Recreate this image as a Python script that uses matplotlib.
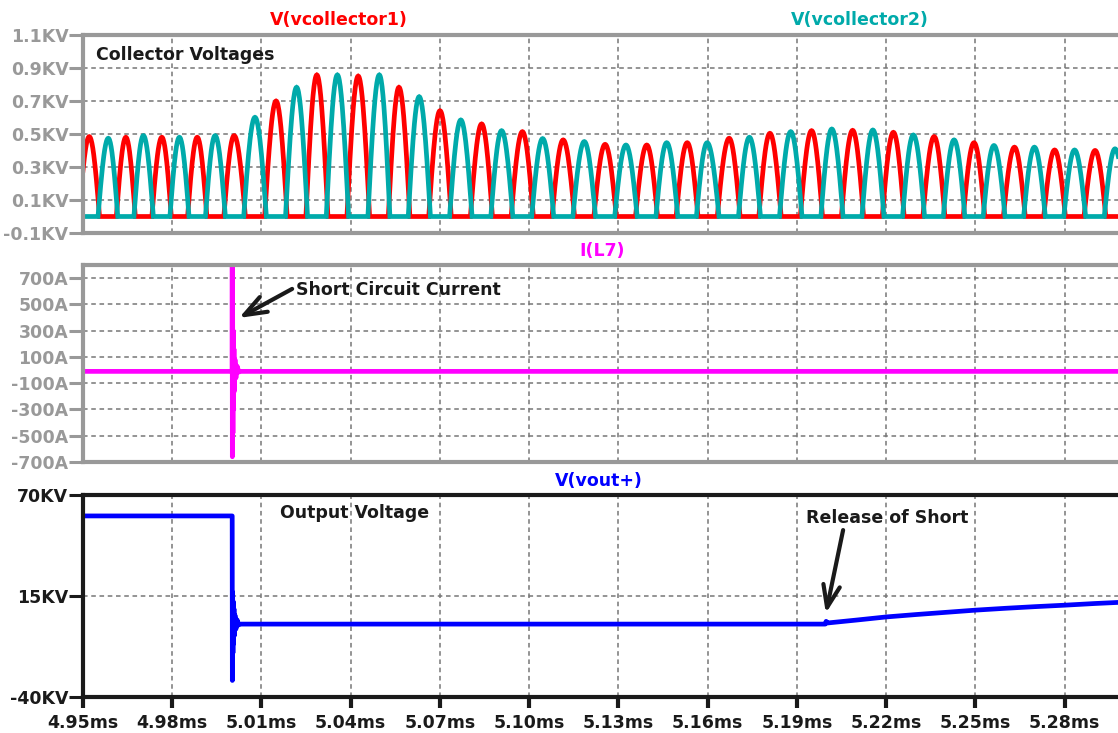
import numpy as np
import matplotlib
matplotlib.use("Agg")
import matplotlib.pyplot as plt

# ---- time axis (ms) ----
t_start, t_end = 4.95, 5.2979
xtick_ms = [4.95, 4.98, 5.01, 5.04, 5.07, 5.10, 5.13, 5.16, 5.19, 5.22, 5.25, 5.28]
xtick_labels = ["4.95ms", "4.98ms", "5.01ms", "5.04ms", "5.07ms", "5.10ms",
                "5.13ms", "5.16ms", "5.19ms", "5.22ms", "5.25ms", "5.28ms"]

# ---- collector voltages: peak time (ms) and peak value (kV) of each half-cycle ----
c1_peak_ms = [4.9521, 4.9644, 4.9765, 4.9884, 5.0008, 5.0149, 5.0286, 5.0425, 5.0562,
              5.0700, 5.0840, 5.0977, 5.1114, 5.1255, 5.1395, 5.1531, 5.1672, 5.1809,
              5.1949, 5.2087, 5.2224, 5.2361, 5.2495, 5.2631, 5.2766, 5.2902]
c1_peak_kv = [0.484, 0.48, 0.48, 0.48, 0.49, 0.70, 0.858, 0.851, 0.783, 0.641, 0.561,
              0.514, 0.464, 0.437, 0.433, 0.447, 0.474, 0.504, 0.52, 0.522, 0.51, 0.484,
              0.447, 0.42, 0.403, 0.40]
c2_peak_ms = [4.9585, 4.9703, 4.9824, 4.9944, 5.0078, 5.0218, 5.0355, 5.0496, 5.0630,
              5.0770, 5.0907, 5.1045, 5.1185, 5.1325, 5.1462, 5.1598, 5.1740, 5.1879,
              5.2017, 5.2155, 5.2291, 5.2428, 5.2562, 5.2698, 5.2833, 5.2969]
c2_peak_kv = [0.474, 0.49, 0.48, 0.49, 0.601, 0.783, 0.858, 0.858, 0.726, 0.585, 0.52,
              0.472, 0.454, 0.433, 0.447, 0.447, 0.48, 0.514, 0.53, 0.524, 0.494, 0.464,
              0.43, 0.42, 0.403, 0.41]
c_ticks = [-0.1, 0.1, 0.3, 0.5, 0.7, 0.9, 1.1]
c_tick_labels = ["-0.1KV", "0.1KV", "0.3KV", "0.5KV", "0.7KV", "0.9KV", "1.1KV"]

# ---- inductor current I(L7) (A) ----
il7_ms = [4.95, 5.00013, 5.00016, 5.00020, 5.0003, 5.0004, 5.0005, 5.0006, 5.00075,
          5.0009, 5.0011, 5.0014, 5.0018, 5.0024, 5.0030, 5.2979]
il7_a = [-10, -10, 900, -660, 420, -480, 300, -300, 160, -160, 80, -60, 30, -15, -10, -10]
i_ticks = [-700, -500, -300, -100, 100, 300, 500, 700]
i_tick_labels = ["-700A", "-500A", "-300A", "-100A", "100A", "300A", "500A", "700A"]

# ---- output voltage V(vout+) (kV) ----
vout_ms = [4.95, 5.00015, 5.00020, 5.0003, 5.0004, 5.0005, 5.0006, 5.00075, 5.0009,
           5.0011, 5.0014, 5.0018, 5.0023, 5.0028, 5.1995, 5.1998, 5.2002, 5.2100,
           5.2200, 5.2300, 5.2400, 5.2500, 5.2600, 5.2700, 5.2800, 5.2900, 5.2979]
vout_kv = [58.6, 58.6, -31.0, 17.0, -16.0, 12.0, -11.0, 8.0, -6.5, 4.5, -3.0, 2.0,
           -0.8, -0.3, -0.3, 1.2, 0.3, 1.9, 3.6, 4.9, 6.1, 7.3, 8.3, 9.2, 10.0, 10.9, 11.5]
v_ticks = [-40, 15, 70]
v_tick_labels = ["-40KV", "15KV", "70KV"]

RED = "#FF0000"
TEAL = "#00AAAA"
MAGENTA = "#FF00FF"
BLUE = "#0000FF"
FRAME_GRAY = "#999999"
GRID_GRAY = "#777777"
FONT = "DejaVu Sans"
FS = 12.5
TRACE_LW = 3.4


def half_wave(peak_t, peak_v, all_peaks, spread=1.08):
    """Half-sine pulses centred on each peak, zero in between."""
    allp = np.sort(np.asarray(all_peaks))
    ts, vs = [], []
    a = np.linspace(0.0, 1.0, 24)
    for tp, vp in zip(peak_t, peak_v):
        i = int(np.searchsorted(allp, tp))
        prev_gap = (tp - allp[i - 1]) if i > 0 else None
        next_gap = (allp[i + 1] - tp) if i + 1 < len(allp) else None
        left = spread * (prev_gap if prev_gap is not None else next_gap) / 2
        right = spread * (next_gap if next_gap is not None else prev_gap) / 2
        ts.extend(tp - left + a * left)
        vs.extend(vp * np.sin(a * np.pi / 2))
        ts.extend(tp + a[1:] * right)
        vs.extend(vp * np.cos(a[1:] * np.pi / 2))
    ts = [min(t_start, ts[0]) - 0.001] + ts + [max(t_end, ts[-1]) + 0.001]
    vs = [0.0] + vs + [0.0]
    return np.array(ts), np.array(vs)


W, H = 1118, 733
fig = plt.figure(figsize=(W / 100, H / 100), dpi=100)


def make_axes(top, bottom, frame_color, label_color):
    ax = fig.add_axes([83 / W, 1 - bottom / H, 1 - 83 / W, (bottom - top) / H])
    ax.set_xlim(t_start, t_end)
    for side in ("left", "top", "bottom"):
        ax.spines[side].set_color(frame_color)
        ax.spines[side].set_linewidth(3)
    ax.spines["right"].set_visible(False)
    ax.set_xticks(xtick_ms)
    ax.tick_params(axis="y", direction="out", length=10, width=2.2, pad=0.5,
                   color=frame_color, labelcolor=label_color, labelsize=FS)
    ax.grid(True, color=GRID_GRAY, linewidth=1.1, linestyle=(0, (3, 2.4)))
    ax.set_axisbelow(True)
    return ax


# ---- top pane: collector voltages ----
ax1 = make_axes(35, 233, FRAME_GRAY, "#999999")
ax1.set_ylim(-0.1, 1.1)
ax1.set_yticks(c_ticks)
ax1.set_yticklabels(c_tick_labels, fontweight="bold", family=FONT)
ax1.tick_params(axis="x", length=0, labelbottom=False)
all_peaks = c1_peak_ms + c2_peak_ms
t1, v1 = half_wave(c1_peak_ms, c1_peak_kv, all_peaks)
t2, v2 = half_wave(c2_peak_ms, c2_peak_kv, all_peaks)
ax1.plot(t1, v1, color=RED, lw=TRACE_LW, solid_joinstyle="miter")
ax1.plot(t2, v2, color=TEAL, lw=TRACE_LW, solid_joinstyle="miter")
ax1.text(4.9544, 0.979, "Collector Voltages", fontsize=FS, fontweight="bold",
         family=FONT, color="#1a1a1a", va="center", ha="left")

# ---- middle pane: short-circuit current ----
ax2 = make_axes(265, 462, FRAME_GRAY, "#999999")
ax2.set_ylim(-700, 800)
ax2.set_yticks(i_ticks)
ax2.set_yticklabels(i_tick_labels, fontweight="bold", family=FONT)
ax2.tick_params(axis="x", length=0, labelbottom=False)
ax2.plot(il7_ms, il7_a, color=MAGENTA, lw=TRACE_LW)
ax2.text(5.0216, 608, "Short Circuit Current", fontsize=FS, fontweight="bold",
         family=FONT, color="#1a1a1a", va="center", ha="left")
ax2.annotate("", xy=(5.00244, 397), xytext=(5.0203, 618),
             arrowprops=dict(arrowstyle="->,head_length=1.6,head_width=0.6",
                             lw=3.0, color="#1a1a1a", shrinkA=0, shrinkB=0))

# ---- bottom pane: output voltage ----
ax3 = make_axes(495, 697, "#1a1a1a", "#1a1a1a")
ax3.set_ylim(-40, 70)
ax3.set_yticks(v_ticks)
ax3.set_yticklabels(v_tick_labels, fontweight="bold", family=FONT)
ax3.set_xticklabels(xtick_labels, fontweight="bold", family=FONT)
ax3.tick_params(axis="x", direction="out", length=8, width=3, pad=4,
                color="#1a1a1a", labelcolor="#1a1a1a", labelsize=FS)
ax3.plot(vout_ms, vout_kv, color=BLUE, lw=TRACE_LW)
ax3.text(5.0162, 60.2, "Output Voltage", fontsize=FS, fontweight="bold",
         family=FONT, color="#1a1a1a", va="center", ha="left")
ax3.text(5.1930, 57.5, "Release of Short", fontsize=FS, fontweight="bold",
         family=FONT, color="#1a1a1a", va="center", ha="left")
ax3.annotate("", xy=(5.1997, 5.6), xytext=(5.2055, 50.9),
             arrowprops=dict(arrowstyle="->,head_length=1.6,head_width=0.6",
                             lw=3.0, color="#1a1a1a", shrinkA=0, shrinkB=0))

# ---- trace names above each pane ----
def pane_title(x_px, y_px, text, color):
    fig.text(x_px / W, 1 - y_px / H, text, color=color, fontsize=FS,
             fontweight="bold", family=FONT, ha="center", va="center")

pane_title(339, 20, "V(vcollector1)", RED)
pane_title(860, 20, "V(vcollector2)", TEAL)
pane_title(602, 251, "I(L7)", MAGENTA)
pane_title(599, 481, "V(vout+)", BLUE)

fig.savefig("out.png", dpi=100, facecolor="white")
